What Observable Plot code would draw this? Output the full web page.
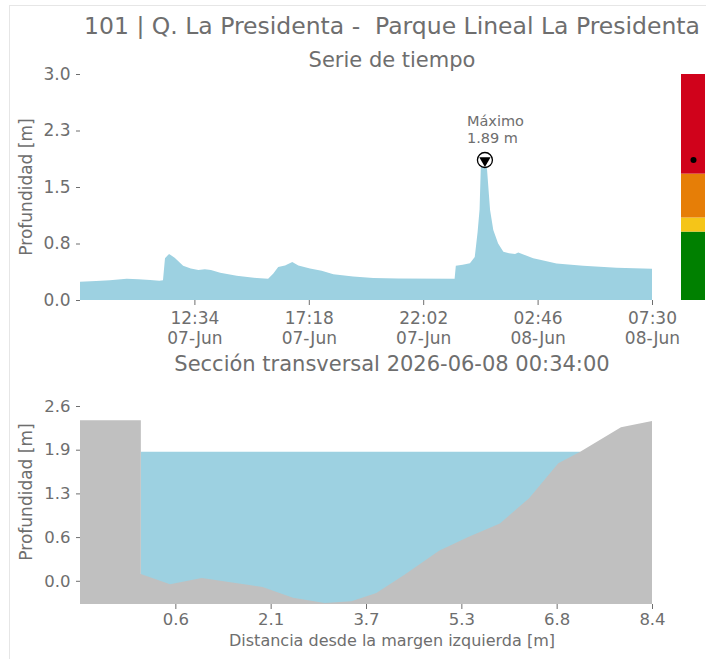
<!DOCTYPE html>
<html>
<head>
<meta charset="utf-8">
<script src="https://cdn.jsdelivr.net/npm/d3@7"></script>
<script src="https://cdn.jsdelivr.net/npm/@observablehq/plot@0.6"></script>
<style>
  body { margin: 0; background: #fff; }
  #wrap { position: relative; width: 706px; height: 659px; overflow: hidden; background: #fff;
          font-family: "DejaVu Sans", sans-serif; color: #6e6e6e; }
  #frame { position: absolute; left: 9px; top: 5px; width: 720px; height: 700px;
           border-left: 1px solid #e6e6e6; border-top: 1px solid #e6e6e6; }
  .ctr { position: absolute; white-space: pre; line-height: 1; transform: translateX(-50%); }
  .yl { position: absolute; white-space: nowrap; line-height: 1; font-size: 17px;
        transform: translate(-50%, -50%) rotate(-90deg); }
</style>
</head>
<body>
<div id="wrap">
  <div id="frame"></div>
  <div class="ctr" id="title" style="left:392px; top:15px; font-size:23.5px;"></div>
  <div class="ctr" id="sub1" style="left:392px; top:50px; font-size:21px;"></div>
  <div class="ctr" id="sub2" style="left:392px; top:354px; font-size:21px;"></div>
  <div class="yl" id="yl1" style="left:26px; top:187px;"></div>
  <div class="yl" id="yl2" style="left:26px; top:492px;"></div>
  <div class="ctr" id="xl2" style="left:392px; top:633px; font-size:16px;"></div>
</div>
<script>
// ---------- texts ----------
const titleText = "101 | Q. La Presidenta -  Parque Lineal La Presidenta";
const subtitleSeries = "Serie de tiempo";
const sectionStamp = "2026-06-08 00:34:00";
const subtitleSection = "Sección transversal " + sectionStamp;
const yLabel = "Profundidad [m]";
const xLabelSection = "Distancia desde la margen izquierda [m]";
const peakLabel = "Máximo";

// ---------- time series (depth in m) ----------
const times = [
  "2026-06-07T07:50","2026-06-07T08:30","2026-06-07T09:04","2026-06-07T09:46","2026-06-07T10:15",
  "2026-06-07T10:44","2026-06-07T11:07","2026-06-07T11:16","2026-06-07T11:21","2026-06-07T11:31",
  "2026-06-07T11:45","2026-06-07T12:06","2026-06-07T12:25","2026-06-07T12:44","2026-06-07T13:00",
  "2026-06-07T13:15","2026-06-07T13:38","2026-06-07T14:19","2026-06-07T15:09","2026-06-07T15:37",
  "2026-06-07T15:50","2026-06-07T16:02","2026-06-07T16:19","2026-06-07T16:37","2026-06-07T16:52",
  "2026-06-07T17:21","2026-06-07T17:50","2026-06-07T18:19","2026-06-07T19:08","2026-06-07T19:58",
  "2026-06-07T21:00","2026-06-07T23:20","2026-06-07T23:23","2026-06-07T23:40","2026-06-07T23:58",
  "2026-06-08T00:10","2026-06-08T00:17","2026-06-08T00:22","2026-06-08T00:25","2026-06-08T00:34",
  "2026-06-08T00:40","2026-06-08T00:48","2026-06-08T00:56","2026-06-08T01:08","2026-06-08T01:21",
  "2026-06-08T01:35","2026-06-08T01:50","2026-06-08T01:58","2026-06-08T02:35","2026-06-08T02:52",
  "2026-06-08T03:33","2026-06-08T04:39","2026-06-08T06:02","2026-06-08T07:30"
];
const depths = [
  0.245,0.255,0.265,0.285,0.28,
  0.27,0.26,0.265,0.56,0.62,
  0.57,0.46,0.425,0.405,0.415,
  0.405,0.365,0.325,0.295,0.285,
  0.355,0.445,0.465,0.51,0.465,
  0.425,0.395,0.345,0.315,0.295,
  0.29,0.285,0.46,0.475,0.495,
  0.58,0.91,1.22,1.79,1.89,
  1.79,1.21,0.94,0.76,0.65,
  0.63,0.62,0.64,0.56,0.54,
  0.49,0.46,0.435,0.42
];
const seriesStart = "2026-06-07T07:50";
const seriesEnd = "2026-06-08T07:30";
const xTickTimes = ["2026-06-07T12:34","2026-06-07T17:18","2026-06-07T22:02","2026-06-08T02:46","2026-06-08T07:30"];
const xTickLabels = ["12:34\n07-Jun","17:18\n07-Jun","22:02\n07-Jun","02:46\n08-Jun","07:30\n08-Jun"];
const yTicksTop = [0, 0.76, 1.52, 2.28, 3.04];
const yTickLabelsTop = ["0.0","0.8","1.5","2.3","3.0"];

// ---------- alert bands ----------
const bandLower = [0, 0.92, 1.11, 1.70];
const bandUpper = [0.92, 1.11, 1.70, 3.04];
const bandColors = ["#008000", "#f5c518", "#e67e07", "#d0021b"];

// ---------- cross section ----------
const distances = [-1.0, 0.0, 0.0, 0.48, 1.0, 2.0, 2.5, 3.02, 3.46, 3.87, 4.35, 4.9, 5.38, 5.9, 6.38, 6.86, 7.22, 7.89, 8.4];
const bed =       [2.35, 2.35, 0.10, -0.05, 0.04, -0.09, -0.25, -0.325, -0.30, -0.18, 0.10, 0.44, 0.64, 0.84, 1.21, 1.72, 1.89, 2.25, 2.34];
const waterLevel = 1.89;
const xTicksSection = [0.567, 2.133, 3.7, 5.267, 6.833, 8.4];
const xTickLabelsSection = ["0.6","2.1","3.7","5.3","6.8","8.4"];
const yTicksSection = [0, 0.64, 1.28, 1.92, 2.56];
const yTickLabelsSection = ["0.0","0.6","1.3","1.9","2.6"];

// ---------- styles ----------
const gray = "#6e6e6e";
const water = "#9dd1e1";
const ground = "#c0c0c0";

// ---------- build ----------
document.getElementById("title").textContent = titleText;
document.getElementById("sub1").textContent = subtitleSeries;
document.getElementById("sub2").textContent = subtitleSection;
document.getElementById("yl1").textContent = yLabel;
document.getElementById("yl2").textContent = yLabel;
document.getElementById("xl2").textContent = xLabelSection;

const series = times.map((t, i) => ({t: new Date(t), v: depths[i]}));
const peak = d3.greatest(series, d => d.v);
const xTickDates = xTickTimes.map(t => new Date(t));
const xLabMap = new Map(xTickDates.map((d, i) => [+d, xTickLabels[i]]));
const yLabTop = new Map(yTicksTop.map((v, i) => [v, yTickLabelsTop[i]]));

const wrap = document.getElementById("wrap");

const topPlot = Plot.plot({
  width: 706, height: 286,
  marginLeft: 80, marginRight: 54, marginTop: 10, marginBottom: 50,
  style: {fontFamily: "DejaVu Sans, sans-serif", fontSize: "17px", color: gray, background: "transparent", overflow: "visible"},
  x: {type: "time", domain: [new Date(seriesStart), new Date(seriesEnd)]},
  y: {domain: [0, 3.04]},
  marks: [
    Plot.areaY(series, {x: "t", y: "v", fill: water}),
    Plot.axisY({ticks: yTicksTop, tickFormat: v => yLabTop.get(v), tickSize: 4, tickPadding: 6, label: null}),
    Plot.axisX({ticks: xTickDates, tickFormat: d => xLabMap.get(+d), tickSize: 5, tickPadding: 4, label: null, lineHeight: 1.2}),
    Plot.dot([peak], {x: "t", y: "v", r: 7.5, fill: "white", stroke: "black", strokeWidth: 1.3}),
    Plot.dot([peak], {x: "t", y: "v", symbol: "triangle", rotate: 180, r: 4.2, fill: "black", dy: 0.5}),
    Plot.text([peak], {x: "t", y: "v", text: d => `${peakLabel}\n${d.v.toFixed(2)} m`, textAnchor: "start",
      lineAnchor: "bottom", dx: -18, dy: -17, fontSize: 14.5, lineHeight: 1.15, fill: gray})
  ]
});
topPlot.style.position = "absolute"; topPlot.style.left = "0px"; topPlot.style.top = "64px";
wrap.appendChild(topPlot);

const bands = bandLower.map((lo, i) => ({lo, hi: bandUpper[i], c: bandColors[i]}));
const barPlot = Plot.plot({
  width: 24, height: 286,
  marginLeft: 0, marginRight: 0, marginTop: 10, marginBottom: 50,
  style: {background: "transparent", overflow: "visible"},
  x: {axis: null, domain: [0, 1]},
  y: {axis: null, domain: [0, 3.04]},
  marks: [
    Plot.rect(bands, {y1: "lo", y2: "hi", fill: "c"}),
    Plot.dot([peak], {y: "v", frameAnchor: "middle", r: 3, fill: "black"})
  ]
});
barPlot.style.position = "absolute"; barPlot.style.left = "681px"; barPlot.style.top = "64px";
wrap.appendChild(barPlot);

const bedRows = distances.map((d, i) => ({d, z: bed[i]}));
const wet = d3.extent(bedRows.filter(r => r.z <= waterLevel && r.d >= 0), r => r.d);
const waterRows = wet.map(d => ({d}));
const yMin = -0.34;
const xLabSec = new Map(xTicksSection.map((v, i) => [v, xTickLabelsSection[i]]));
const yLabSec = new Map(yTicksSection.map((v, i) => [v, yTickLabelsSection[i]]));

const secPlot = Plot.plot({
  width: 706, height: 264,
  marginLeft: 80, marginRight: 54, marginTop: 10, marginBottom: 56,
  style: {fontFamily: "DejaVu Sans, sans-serif", fontSize: "16.5px", color: gray, background: "transparent", overflow: "visible"},
  x: {domain: [distances[0], distances[distances.length - 1]]},
  y: {domain: [yMin, 2.56]},
  marks: [
    Plot.areaY(waterRows, {x: "d", y1: yMin, y2: waterLevel, fill: water}),
    Plot.areaY(bedRows, {x: "d", y1: yMin, y2: "z", fill: ground}),
    Plot.axisY({ticks: yTicksSection, tickFormat: v => yLabSec.get(v), tickSize: 4, tickPadding: 6, label: null}),
    Plot.axisX({ticks: xTicksSection, tickFormat: v => xLabSec.get(v), tickSize: 5, tickPadding: 4, label: null})
  ]
});
secPlot.style.position = "absolute"; secPlot.style.left = "0px"; secPlot.style.top = "396px";
wrap.appendChild(secPlot);
</script>
</body>
</html>
